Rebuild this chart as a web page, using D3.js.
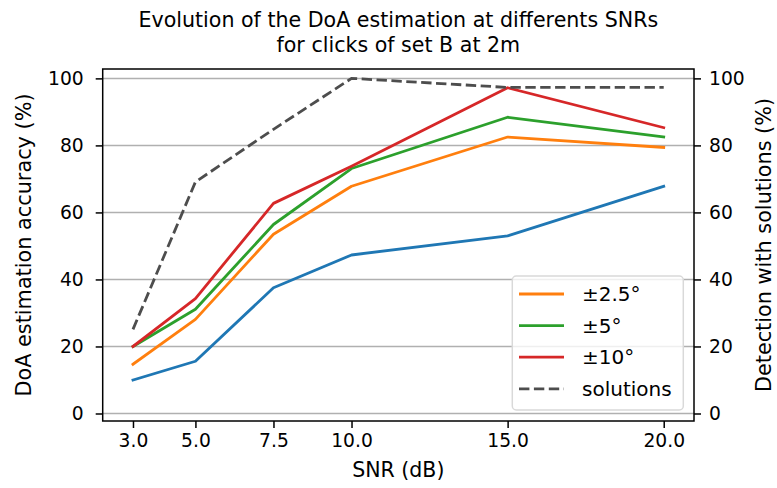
<!DOCTYPE html>
<html>
<head>
<meta charset="utf-8">
<script src="https://cdn.jsdelivr.net/npm/d3@7"></script>
<style>
  html, body { margin: 0; padding: 0; background: #fff; }
  svg { display: block; font-family: "DejaVu Sans", sans-serif; }
</style>
</head>
<body>
<svg id="chart" width="777" height="488"></svg>
<script>
// ---- data ----
const snr = [3.0, 5.0, 7.5, 10.0, 15.0, 20.0];
const xTickLabels = ["3.0", "5.0", "7.5", "10.0", "15.0", "20.0"];
const yTicks = [0, 20, 40, 60, 80, 100];
const acc1 = [10.0, 15.6, 37.5, 47.3, 53.0, 67.8];      // blue (no legend)
const acc25 = [14.7, 28.1, 53.5, 67.8, 82.5, 79.4];     // ±2.5°
const acc5 = [20.0, 31.1, 56.4, 73.1, 88.4, 82.5];      // ±5°
const acc10 = [20.0, 34.3, 62.7, 73.8, 97.2, 85.3];     // ±10°
const solutions = [25.1, 69.1, 84.8, 100.0, 97.3, 97.3];
const legendLabels = ["±2.5°", "±5°", "±10°", "solutions"];
const titleLines = ["Evolution of the DoA estimation at differents SNRs", "for clicks of set B at 2m"];

// ---- layout ----
const L = 102.7, R = 694, T = 69, B = 421;
const svg = d3.select("#chart");
const x = d3.scaleLinear().domain([2.03, 20.97]).range([L, R]);
const yL = d3.scaleLinear().domain([-2.24, 102.8]).range([B, T]);
const yR = d3.scaleLinear().domain([-2.24, 102.8]).range([B, T]);

// grid
svg.append("g").selectAll("line").data(yTicks).join("line")
  .attr("x1", L).attr("x2", R)
  .attr("y1", d => yL(d)).attr("y2", d => yL(d))
  .attr("stroke", "#b0b0b0").attr("stroke-width", 1.5);

// lines
const line = (sc) => d3.line().x((d, i) => x(snr[i])).y(d => sc(d));
const series = [
  {v: acc1, c: "#1f77b4"},
  {v: acc25, c: "#ff7f0e"},
  {v: acc5, c: "#2ca02c"},
  {v: acc10, c: "#d62728"}
];
series.forEach(s => {
  svg.append("path").attr("d", line(yL)(s.v))
    .attr("fill", "none").attr("stroke", s.c).attr("stroke-width", 2.8)
    .attr("stroke-linejoin", "round").attr("stroke-linecap", "square");
});
svg.append("path").attr("d", line(yR)(solutions))
  .attr("fill", "none").attr("stroke", "#4d4d4d").attr("stroke-width", 2.8)
  .attr("stroke-dasharray", "10.4,4.5");

// axes
const tickStyle = g => {
  g.selectAll("text").attr("font-size", "18.7px").attr("fill", "#000")
    .attr("font-family", "DejaVu Sans");
  g.selectAll(".tick line").attr("stroke", "#000").attr("stroke-width", 1.5);
  g.select(".domain").remove();
};
const xAxis = d3.axisBottom(x).tickValues(snr).tickFormat((d, i) => xTickLabels[i])
  .tickSizeInner(7).tickSizeOuter(0).tickPadding(5.5);
svg.append("g").attr("transform", `translate(0,${B})`).call(xAxis).call(tickStyle);
const yAxisL = d3.axisLeft(yL).tickValues(yTicks).tickFormat(d3.format("d"))
  .tickSizeInner(7).tickSizeOuter(0).tickPadding(12);
svg.append("g").attr("transform", `translate(${L},0)`).call(yAxisL).call(tickStyle);
const yAxisR = d3.axisRight(yR).tickValues(yTicks).tickFormat(d3.format("d"))
  .tickSizeInner(7).tickSizeOuter(0).tickPadding(8);
svg.append("g").attr("transform", `translate(${R},0)`).call(yAxisR).call(tickStyle);

// frame
svg.append("rect").attr("x", L).attr("y", T).attr("width", R - L).attr("height", B - T)
  .attr("fill", "none").attr("stroke", "#000").attr("stroke-width", 1.5);

// labels
svg.append("text").attr("x", (L + R) / 2).attr("y", 477).attr("text-anchor", "middle")
  .attr("font-size", "20.5px").text("SNR (dB)");
svg.append("text").attr("transform", `translate(31,${(T + B) / 2}) rotate(-90)`)
  .attr("text-anchor", "middle").attr("font-size", "20.8px").text("DoA estimation accuracy (%)");
svg.append("text").attr("transform", `translate(771,${(T + B) / 2}) rotate(-90)`)
  .attr("text-anchor", "middle").attr("font-size", "20.8px").text("Detection with solutions (%)");

// title
svg.append("g").selectAll("text").data(titleLines).join("text")
  .attr("x", (L + R) / 2).attr("y", (d, i) => 27 + i * 24.5)
  .attr("text-anchor", "middle").attr("font-size", "20.6px").text(d => d);

// legend
const lg = svg.append("g");
lg.append("rect").attr("x", 512.3).attr("y", 276).attr("width", 171).attr("height", 134)
  .attr("rx", 4).attr("fill", "#fff").attr("fill-opacity", 0.8)
  .attr("stroke", "#d9d9d9").attr("stroke-width", 1.5);
const legendColors = ["#ff7f0e", "#2ca02c", "#d62728", "#4d4d4d"];
const rows = lg.selectAll("g.row").data(legendLabels).join("g")
  .attr("transform", (d, i) => `translate(0,${294 + i * 31.6})`);
rows.append("line").attr("x1", 519).attr("x2", 564).attr("y1", 0).attr("y2", 0)
  .attr("stroke", (d, i) => legendColors[i]).attr("stroke-width", 2.8)
  .attr("stroke-dasharray", (d, i) => i === 3 ? "10.4,4.5" : null);
rows.append("text").attr("x", 582).attr("y", 7).attr("font-size", "20px").text(d => d);
</script>
</body>
</html>
